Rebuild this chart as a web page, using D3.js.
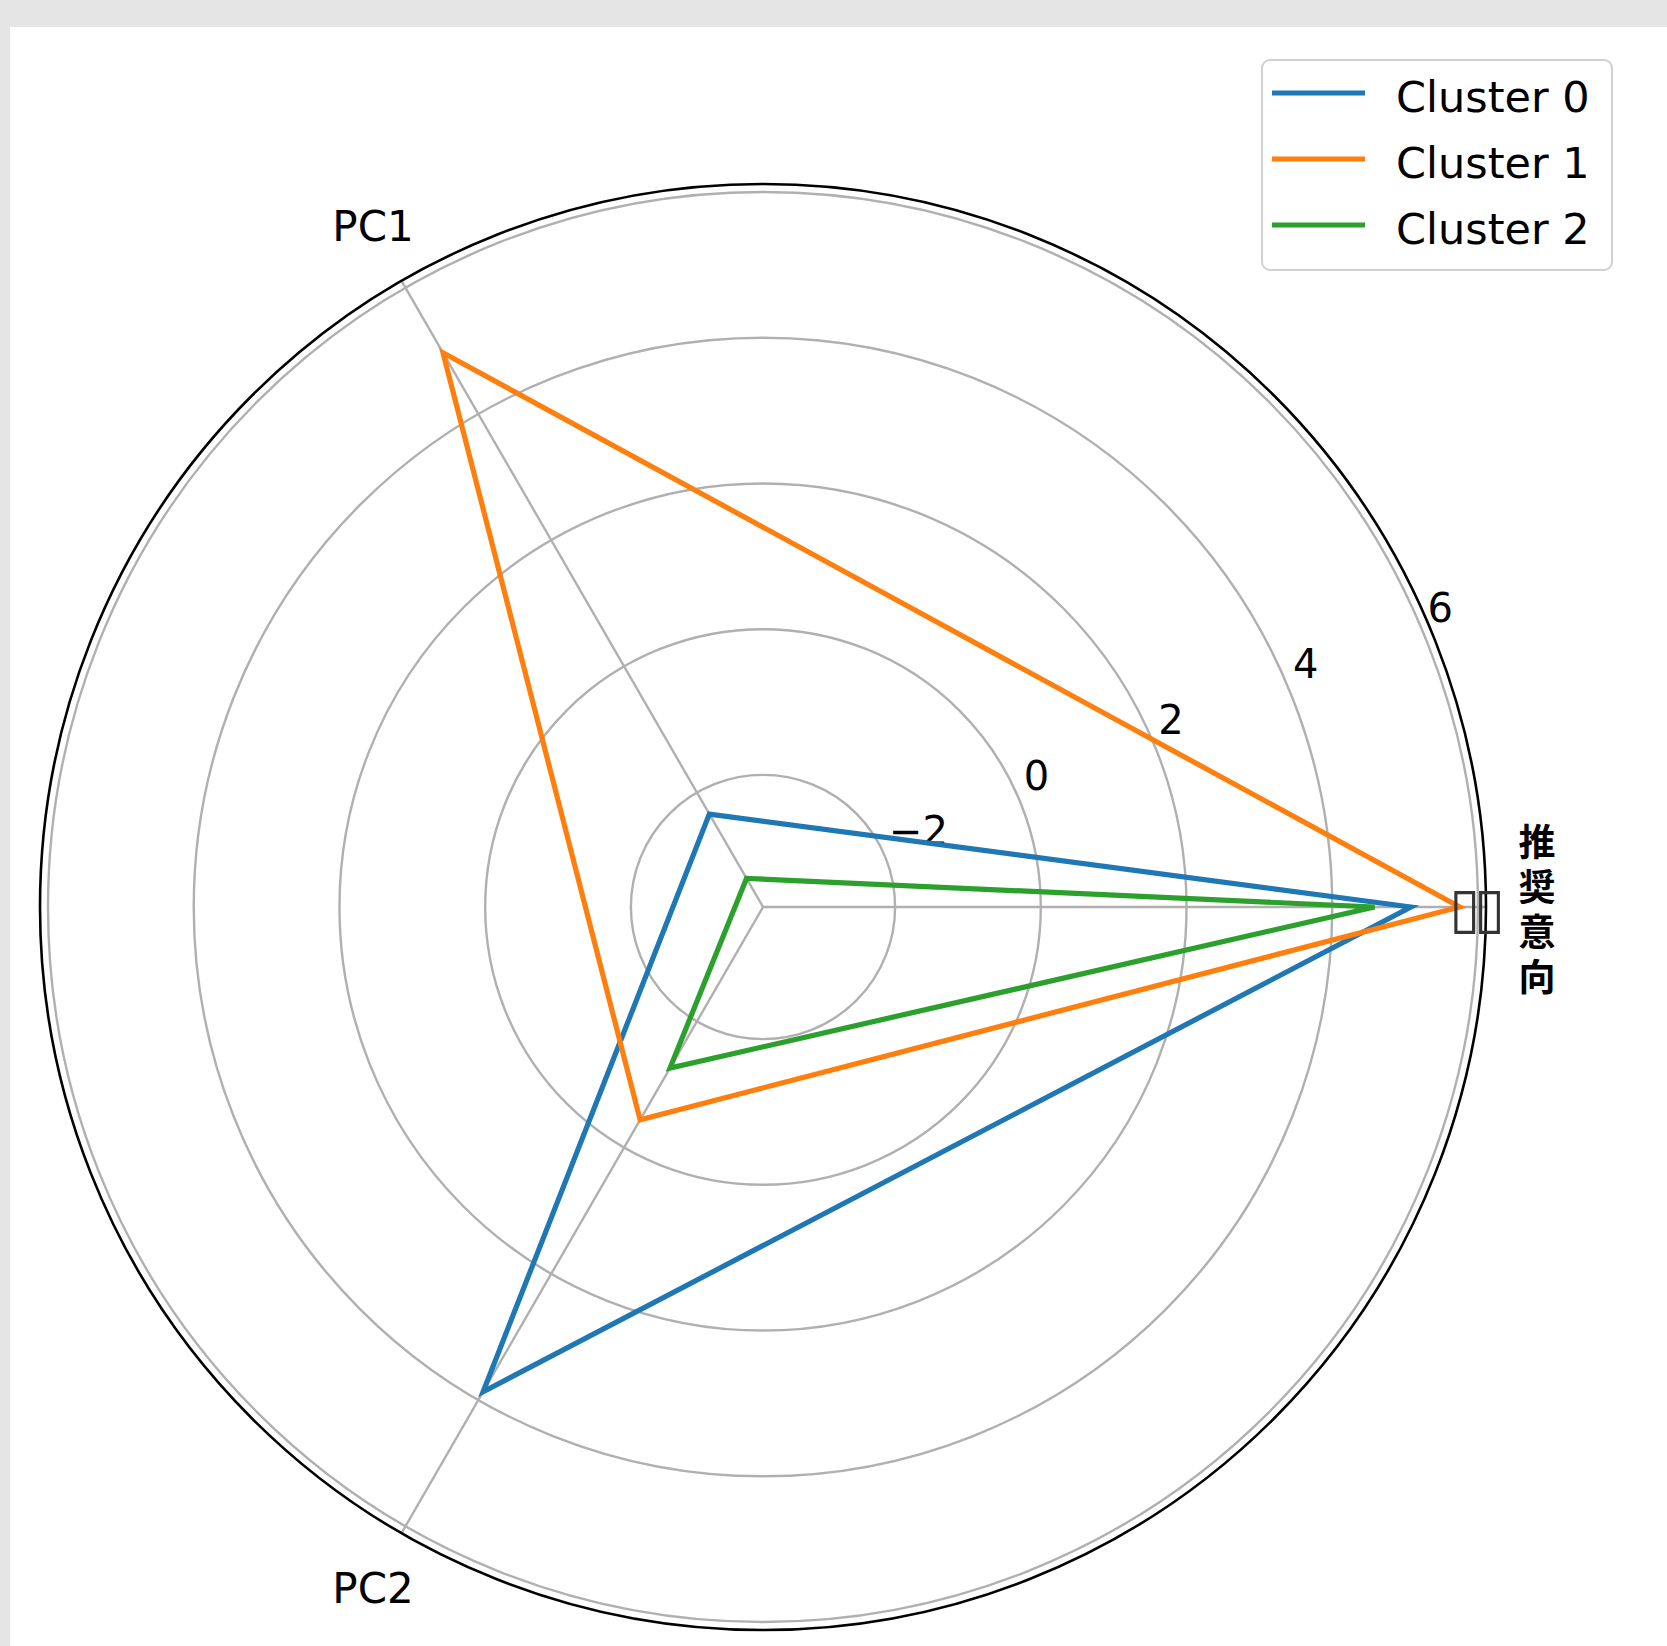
<!DOCTYPE html>
<html>
<head>
<meta charset="utf-8">
<script src="https://cdn.jsdelivr.net/npm/d3@7"></script>
<style>
  html, body { margin: 0; padding: 0; background: #e5e5e5; }
  svg { display: block; }
</style>
</head>
<body>
<div class="visuals"></div>
<script>
// radar chart of cluster means
const categories = ["推奨意向", "PC1", "PC2"];
const seriesNames = ["Cluster 0", "Cluster 1", "Cluster 2"];
const cluster0 = [5.08, -2.34, 3.87];
const cluster1 = [5.75, 4.97, -0.44];
const cluster2 = [4.58, -3.36, -1.26];
const tickValues = [-2, 0, 2, 4, 6];
const tickLabels = ["\u22122", "0", "2", "4", "6"];
const colors = ["#1f77b4", "#ff7f0e", "#2ca02c"];

const width = 1667;
const height = 1646;
const cx = 763, cy = 907;
const R = 723;
const rMin = -3.813, rMax = 6.11;

const svg = d3.select(".visuals")
  .append("svg")
  .attr("width", width)
  .attr("height", height);

// figure background (white area, gray border top/left)
svg.append("rect")
  .attr("x", 10).attr("y", 27)
  .attr("width", width - 10).attr("height", height - 27)
  .attr("fill", "#ffffff");

const r = d3.scaleLinear().domain([rMin, rMax]).range([0, R]);
// angle of each axis, counter clockwise from east
const angle = d3.scaleLinear().domain([0, categories.length]).range([0, 2 * Math.PI]);

const g = svg.append("g").attr("transform", `translate(${cx},${cy})`);

// ring grid
g.selectAll("circle.grid")
  .data(tickValues)
  .enter()
  .append("circle")
  .attr("class", "grid")
  .attr("r", d => r(d))
  .attr("fill", "none")
  .attr("stroke", "#b0b0b0")
  .attr("stroke-width", 2.4);

// spokes
g.selectAll("line.spoke")
  .data(categories)
  .enter()
  .append("line")
  .attr("class", "spoke")
  .attr("x1", 0).attr("y1", 0)
  .attr("x2", (d, i) => r(rMax) * Math.cos(angle(i)))
  .attr("y2", (d, i) => -r(rMax) * Math.sin(angle(i)))
  .attr("stroke", "#b0b0b0")
  .attr("stroke-width", 2.4);

// outer spine
g.append("circle")
  .attr("r", r(rMax))
  .attr("fill", "none")
  .attr("stroke", "#000")
  .attr("stroke-width", 2.6);

// radial tick labels at 22.5 degrees
const labelAng = 22.5 * Math.PI / 180;
g.selectAll("text.rtick")
  .data(tickValues)
  .enter()
  .append("text")
  .attr("class", "rtick")
  .attr("x", d => r(d) * Math.cos(labelAng) + 4)
  .attr("y", d => -r(d) * Math.sin(labelAng) - 11)
  .attr("text-anchor", "start")
  .attr("font-family", "DejaVu Sans")
  .attr("font-size", 40)
  .attr("fill", "#000")
  .text((d, i) => tickLabels[i]);

// data polygons
const seriesData = [cluster0, cluster1, cluster2];
const line = d3.lineRadial()
  .angle((d, i) => Math.PI / 2 - angle(i))
  .radius(d => r(d))
  .curve(d3.curveLinearClosed);

g.selectAll("path.series")
  .data(seriesData)
  .enter()
  .append("path")
  .attr("class", "series")
  .attr("d", d => line(d))
  .attr("fill", "none")
  .attr("stroke", (d, i) => colors[i])
  .attr("stroke-width", 5.2)
  .attr("stroke-linejoin", "miter");

// category labels
const catR = 786;
categories.forEach((c, i) => {
  const a = angle(i);
  if (i === 0) {
    // vertical japanese label
    g.append("text")
      .attr("x", catR * Math.cos(a) - 12)
      .attr("y", -catR * Math.sin(a) + 6)
      .attr("writing-mode", "tb")
      .attr("text-anchor", "middle")
      .attr("letter-spacing", 8)
      .attr("font-family", "Noto Sans CJK JP")
      .attr("font-size", 37)
      .attr("font-weight", "bold")
      .attr("fill", "#000")
      .text(c);
    // missing glyph boxes of the duplicated closing label
    g.append("text")
      .attr("x", r(rMax) - 12)
      .attr("y", 20)
      .attr("text-anchor", "middle")
      .attr("letter-spacing", -6)
      .attr("font-family", "DejaVu Sans")
      .attr("font-size", 56)
      .attr("fill", "#333")
      .text("\u25AF\u25AF");
  } else {
    g.append("text")
      .attr("x", catR * Math.cos(a) + 3)
      .attr("y", -catR * Math.sin(a) + 15)
      .attr("text-anchor", "middle")
      .attr("font-family", "DejaVu Sans")
      .attr("font-size", 42)
      .attr("fill", "#000")
      .text(c);
  }
});

// legend
const legend = svg.append("g").attr("transform", "translate(1262,60)");
legend.append("rect")
  .attr("width", 350).attr("height", 210)
  .attr("rx", 8)
  .attr("fill", "#fff").attr("fill-opacity", 0.8)
  .attr("stroke", "#d0d0d0").attr("stroke-width", 2);

const items = legend.selectAll("g.item")
  .data(seriesNames)
  .enter()
  .append("g")
  .attr("class", "item")
  .attr("transform", (d, i) => `translate(0,${33 + i * 66})`);

items.append("line")
  .attr("x1", 10).attr("x2", 103)
  .attr("y1", 0).attr("y2", 0)
  .attr("stroke", (d, i) => colors[i])
  .attr("stroke-width", 5);

items.append("text")
  .attr("x", 134)
  .attr("y", 19)
  .attr("font-family", "DejaVu Sans")
  .attr("font-size", 43)
  .attr("fill", "#000")
  .text(d => d);
</script>
</body>
</html>
